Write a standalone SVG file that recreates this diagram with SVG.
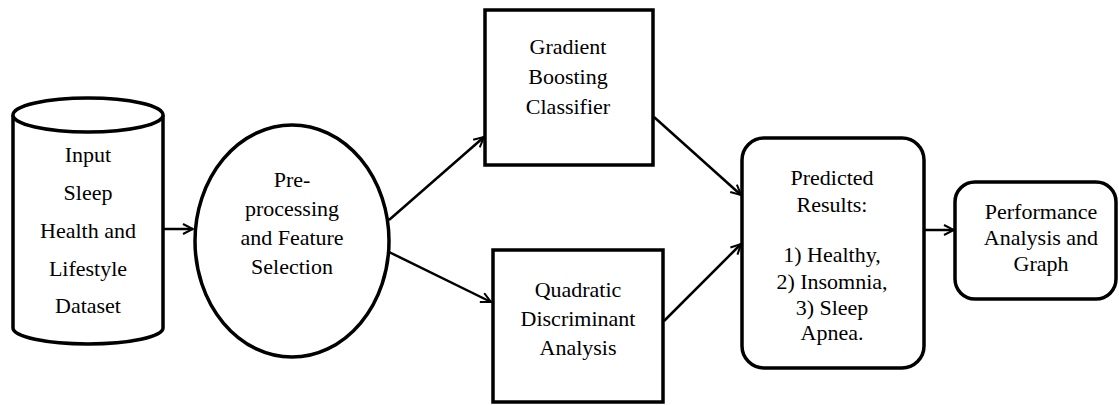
<svg xmlns="http://www.w3.org/2000/svg" width="1119" height="405" viewBox="0 0 1119 405">
<style>
.shape{fill:#fff;stroke:#000;stroke-width:3.5}
.conn{fill:none;stroke:#000;stroke-width:2.5}
.t{font-family:'Liberation Serif','DejaVu Serif',serif;font-size:22px;fill:#000;text-anchor:middle}
</style>
<defs>
<marker id="arr" viewBox="0 0 12 12" refX="11" refY="6" markerWidth="12" markerHeight="12" markerUnits="userSpaceOnUse" orient="auto">
<path d="M1,1 L11,6 L1,11" fill="none" stroke="#000" stroke-width="2"/>
</marker>
</defs>
<rect width="1119" height="405" fill="#fff"/>
<g id="connectors">
<line class="conn" x1="163" y1="229" x2="193" y2="229" marker-end="url(#arr)"/>
<line class="conn" x1="389" y1="220" x2="484" y2="137" marker-end="url(#arr)"/>
<line class="conn" x1="389" y1="252" x2="491" y2="302" marker-end="url(#arr)"/>
<line class="conn" x1="654" y1="117" x2="741" y2="195" marker-end="url(#arr)"/>
<line class="conn" x1="664" y1="321" x2="741" y2="244" marker-end="url(#arr)"/>
<line class="conn" x1="924" y1="230" x2="954" y2="230" marker-end="url(#arr)"/>
</g>
<g id="dataset">
<path class="shape" d="M13,115 L13,328 A75,16 0 0 0 163,328 L163,115"/>
<ellipse class="shape" cx="88" cy="115" rx="75" ry="17"/>
<text class="t" font-family="Liberation Serif, serif" x="88" y="162">Input</text>
<text class="t" font-family="Liberation Serif, serif" x="88" y="200">Sleep</text>
<text class="t" font-family="Liberation Serif, serif" x="88" y="238">Health and</text>
<text class="t" font-family="Liberation Serif, serif" x="88" y="276">Lifestyle</text>
<text class="t" font-family="Liberation Serif, serif" x="88" y="313">Dataset</text>
</g>
<g id="preprocessing">
<ellipse class="shape" cx="292" cy="241" rx="97" ry="116"/>
<text class="t" x="292" y="187">Pre-</text>
<text class="t" x="292" y="216">processing</text>
<text class="t" x="292" y="245">and Feature</text>
<text class="t" x="292" y="274">Selection</text>
</g>
<g id="gbc">
<rect class="shape" x="485" y="10" width="168" height="155"/>
<text class="t" x="568" y="54">Gradient</text>
<text class="t" x="568" y="84">Boosting</text>
<text class="t" x="568" y="114">Classifier</text>
</g>
<g id="qda">
<rect class="shape" x="493" y="250" width="170" height="152"/>
<text class="t" x="578" y="297">Quadratic</text>
<text class="t" x="578" y="326">Discriminant</text>
<text class="t" x="578" y="355">Analysis</text>
</g>
<g id="predicted">
<rect class="shape" x="742" y="138" width="182" height="230" rx="22" ry="22"/>
<text class="t" x="832" y="185">Predicted</text>
<text class="t" x="832" y="212">Results:</text>
<text class="t" x="832" y="262">1) Healthy,</text>
<text class="t" x="832" y="289">2) Insomnia,</text>
<text class="t" x="832" y="315">3) Sleep</text>
<text class="t" x="832" y="340">Apnea.</text>
</g>
<g id="performance">
<rect class="shape" x="955" y="182" width="161" height="117" rx="20" ry="20"/>
<text class="t" x="1041" y="219">Performance</text>
<text class="t" x="1041" y="245">Analysis and</text>
<text class="t" x="1041" y="271">Graph</text>
</g>
</svg>
